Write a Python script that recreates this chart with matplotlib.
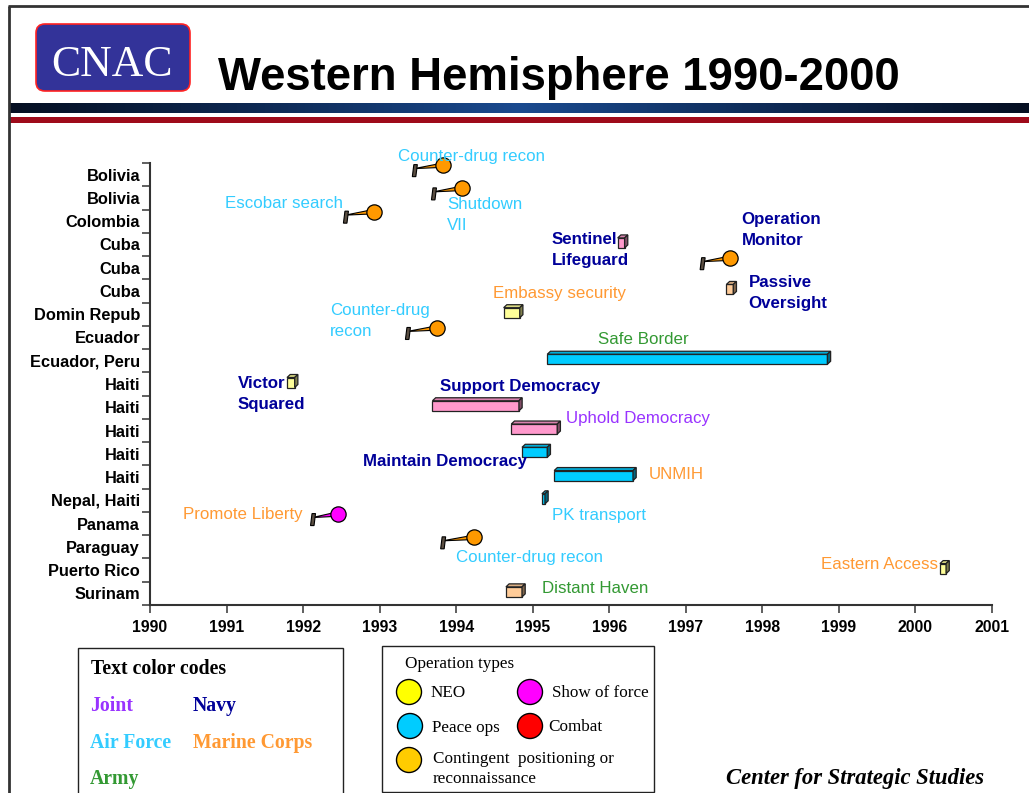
import matplotlib
matplotlib.use('Agg')
import matplotlib.pyplot as plt
import numpy as np
from matplotlib.patches import Polygon, Rectangle, FancyBboxPatch, Circle
from matplotlib.colors import LinearSegmentedColormap, to_rgb

plt.rcParams['font.family'] = ['Liberation Sans', 'DejaVu Sans']

W, H = 1029, 793

# ---------------- data ----------------
countries = ['Bolivia', 'Bolivia', 'Colombia', 'Cuba', 'Cuba', 'Cuba', 'Domin Repub',
             'Ecuador', 'Ecuador, Peru', 'Haiti', 'Haiti', 'Haiti', 'Haiti', 'Haiti',
             'Nepal, Haiti', 'Panama', 'Paraguay', 'Puerto Rico', 'Surinam']
years = list(range(1990, 2002))

# operations drawn as 3-D bars
box_ops = ['Sentinel\nLifeguard', 'Passive\nOversight', 'Embassy security', 'Safe Border',
           'Victor\nSquared', 'Support Democracy', 'Uphold Democracy', 'Maintain Democracy',
           'UNMIH', 'PK transport', 'Eastern Access', 'Distant Haven']
box_rows = [3, 5, 6, 8, 9, 10, 11, 12, 13, 14, 17, 18]
box_start = [1996.11, 1997.53, 1994.62, 1995.19, 1991.79, 1993.69, 1994.72, 1994.86,
             1995.28, 1995.12, 2000.32, 1994.65]
box_end = [1996.20, 1997.62, 1994.83, 1998.85, 1991.89, 1994.82, 1995.32, 1995.19,
           1996.31, 1995.16, 2000.40, 1994.86]
box_type = ['Show of force', 'Contingent', 'NEO', 'Peace ops', 'NEO', 'Show of force',
            'Show of force', 'Peace ops', 'Peace ops', 'Peace ops', 'NEO', 'Contingent']
box_branch = ['Navy', 'Navy', 'Marine Corps', 'Army', 'Navy', 'Navy', 'Joint', 'Navy',
              'Marine Corps', 'Air Force', 'Marine Corps', 'Army']

# operations drawn as pins (start flag -> end circle)
pin_ops = ['Counter-drug recon', 'Shutdown\nVII', 'Escobar search', 'Operation\nMonitor',
           'Counter-drug\nrecon', 'Promote Liberty', 'Counter-drug recon']
pin_rows = [0, 1, 2, 4, 7, 15, 16]
pin_start = [1993.45, 1993.70, 1992.55, 1997.21, 1993.36, 1992.12, 1993.82]
pin_end = [1993.83, 1994.07, 1992.92, 1997.58, 1993.75, 1992.45, 1994.23]
pin_type = ['Contingent', 'Contingent', 'Contingent', 'Contingent', 'Contingent',
            'Show of force', 'Contingent']
pin_branch = ['Air Force', 'Air Force', 'Air Force', 'Navy', 'Air Force', 'Marine Corps',
              'Air Force']

legend_types = ['NEO', 'Show of force', 'Peace ops', 'Combat',
                'Contingent  positioning or', 'reconnaissance']
legend_branches = ['Joint', 'Navy', 'Air Force', 'Marine Corps', 'Army']

# ---------------- styles / layout ----------------
branch_color = {'Joint': '#9933FF', 'Navy': '#000099', 'Air Force': '#33CCFF',
                'Marine Corps': '#FF9933', 'Army': '#339933'}
box_color = {'NEO': '#FFFF99', 'Show of force': '#FF99CC', 'Peace ops': '#00CCFF',
             'Contingent': '#FFCC99'}
pin_color = {'Contingent': '#FF9900', 'Show of force': '#FF00FF'}
legend_color = ['#FFFF00', '#FF00FF', '#00CCFF', '#FF0000', '#FFCC00', None]

box_label_pos = [(1995.25, 3.24, 'left'), (1997.82, 5.09, 'left'), (1994.48, 5.09, 'left'),
                 (1996.45, 7.07, 'center'), (1991.15, 9.43, 'left'), (1993.79, 9.09, 'left'),
                 (1995.43, 10.50, 'left'), (1994.93, 12.31, 'right'), (1996.52, 12.87, 'left'),
                 (1995.25, 14.67, 'left'), (2000.29, 16.78, 'right'), (1995.12, 17.77, 'left')]
pin_label_pos = [(1993.24, -0.76, 'left'), (1993.88, 1.74, 'left'), (1992.52, 1.22, 'right'),
                 (1997.73, 2.39, 'left'), (1992.35, 6.29, 'left'), (1991.99, 14.63, 'right'),
                 (1994.00, 16.44, 'left')]

fig = plt.figure(figsize=(W / 100, H / 100), dpi=100)

# decoration layer in pixel coordinates
deco = fig.add_axes([0, 0, 1, 1], zorder=0)
deco.set_xlim(0, W)
deco.set_ylim(H, 0)
deco.axis('off')

# slide frame
deco.plot([8, W], [6, 6], color='#333333', lw=2, solid_capstyle='butt')
deco.plot([9, 9], [6, H], color='#333333', lw=2, solid_capstyle='butt')

# logo
deco.add_patch(FancyBboxPatch((36, 24), 154, 67, boxstyle='round,pad=0,rounding_size=9',
                              fc='#333399', ec='#FF2222', lw=1.2))
deco.text(112, 76, 'CNAC', color='white', fontsize=31.5, family='Liberation Serif',
          ha='center', va='baseline')
deco.text(218, 90, 'Western Hemisphere 1990-2000', fontsize=32.8, fontweight='bold',
          ha='left', va='baseline', color='black')

# header bars
cmap = LinearSegmentedColormap.from_list('hdr', ['#050f22', '#0e2a55', '#1a4a8f',
                                                 '#0e2a55', '#050f22'])
grad = np.linspace(0, 1, 512).reshape(1, -1)
deco.imshow(grad, cmap=cmap, extent=(10, W, 113, 103), aspect='auto', zorder=1)
deco.add_patch(Rectangle((10, 116.5), W - 10, 6, fc='#9E0A1A', ec='none'))
deco.set_xlim(0, W)
deco.set_ylim(H, 0)

# legend box 1: text colour codes
deco.add_patch(Rectangle((78, 648), 265, 160, fc='white', ec='#222222', lw=1))
deco.text(91, 674, 'Text color codes', family='Liberation Serif', fontweight='bold',
          fontsize=14.2, va='baseline')
bpos = [(90, 711), (193, 711), (90, 748), (193, 748), (90, 784)]
for b, (x, y) in zip(legend_branches, bpos):
    deco.text(x, y, b, family='Liberation Serif', fontweight='bold', fontsize=14.2,
              color=branch_color[b], va='baseline')

# legend box 2: operation types
deco.add_patch(Rectangle((382, 646), 272, 146, fc='white', ec='#222222', lw=1))
deco.text(405, 668, 'Operation types', family='Liberation Serif', fontsize=12.3,
          va='baseline')
cpos = [(409, 692), (530, 692), (410, 726), (530, 726), (409, 760), None]
tpos = [(431, 697), (552, 697), (432, 732), (548, 731), (433, 763), (433, 783)]
for t, c, cp, (tx, ty) in zip(legend_types, legend_color, cpos, tpos):
    if c is not None:
        deco.add_patch(Circle(cp, 12.5, fc=c, ec='black', lw=1))
    deco.text(tx, ty, t, family='Liberation Serif', fontsize=12.3, va='baseline')

deco.text(726, 784, 'Center for Strategic Studies', family='Liberation Serif',
          fontweight='bold', style='italic', fontsize=16.3, va='baseline')

# ---------------- main chart ----------------
ax = fig.add_axes([150 / W, 1 - 605 / H, 842 / W, 442 / H], zorder=2)
ax.set_facecolor('none')
ax.set_xlim(1990, 2001)
ax.set_ylim(18.5, -0.5)

px = 11 / 842.0   # years per pixel
py = 19 / 442.0   # rows per pixel


def shade(c, f):
    r, g, b = to_rgb(c)
    return (r * f, g * f, b * f)


def draw_box(x0, x1, r, face):
    h = 10 * py
    yc = r - 1.5 * py
    ax.barh(yc, x1 - x0, left=x0, height=h, color=face, edgecolor='#222222',
            linewidth=0.9, zorder=3)
    dx, dy = 3.2 * px, 3.0 * py
    top, bot = yc - h / 2, yc + h / 2
    ax.add_patch(Polygon([(x0, top), (x1, top), (x1 + dx, top - dy), (x0 + dx, top - dy)],
                         closed=True, fc=shade(face, 0.85), ec='#222222', lw=0.9, zorder=3))
    ax.add_patch(Polygon([(x1, top), (x1 + dx, top - dy), (x1 + dx, bot - dy), (x1, bot)],
                         closed=True, fc=shade(face, 0.5), ec='#222222', lw=0.9, zorder=3))


def draw_pin(x0, x1, r, fc):
    yb = r - 4 * py
    yc = r - 9.5 * py
    w = 2.2 * py
    ax.add_patch(Polygon([(x0, yb - 2 * py), (x1, yc - w), (x1, yc + w)], closed=True,
                         fc=fc, ec='black', lw=0.8, zorder=3, clip_on=False))
    bw, bh, s = 3.5 * px, 12 * py, 1.5 * px
    ax.add_patch(Polygon([(x0 - bw / 2, yb + bh / 2), (x0 + bw / 2, yb + bh / 2),
                          (x0 + bw / 2 + s, yb - bh / 2), (x0 - bw / 2 + s, yb - bh / 2)],
                         closed=True, fc='#5a4e42', ec='black', lw=0.8, zorder=4,
                         clip_on=False))
    ax.plot([x1], [yc], 'o', ms=11, mfc=fc, mec='black', mew=0.9, zorder=5, clip_on=False)


for x0, x1, r, t in zip(box_start, box_end, box_rows, box_type):
    draw_box(x0, x1, r, box_color[t])
for x0, x1, r, t in zip(pin_start, pin_end, pin_rows, pin_type):
    draw_pin(x0, x1, r, pin_color[t])

for name, br, (x, y, ha) in zip(box_ops + pin_ops, box_branch + pin_branch,
                                box_label_pos + pin_label_pos):
    ax.text(x, y, name, ha=ha, va='center', fontsize=12.2, color=branch_color[br],
            fontweight='bold' if br == 'Navy' else 'normal', linespacing=1.52, zorder=6)

ax.set_xticks(years)
ax.set_xticklabels([str(y) for y in years], fontweight='bold', fontsize=11.3)
ax.set_yticks(range(len(countries)))
ax.set_yticklabels(countries, fontweight='bold', fontsize=11.8)
ax.set_yticks(np.arange(-0.5, len(countries), 1), minor=True)
ax.tick_params(axis='y', which='major', length=0, pad=7.2)
ax.tick_params(axis='y', which='minor', length=5.8, width=1.2, color='#444444')
ax.tick_params(axis='x', which='major', length=5.8, width=1.2, pad=5, color='#444444')
for s in ['top', 'right']:
    ax.spines[s].set_visible(False)
for s in ['left', 'bottom']:
    ax.spines[s].set_color('#333333')
    ax.spines[s].set_linewidth(1.5)

fig.savefig('out.png', dpi=100)
